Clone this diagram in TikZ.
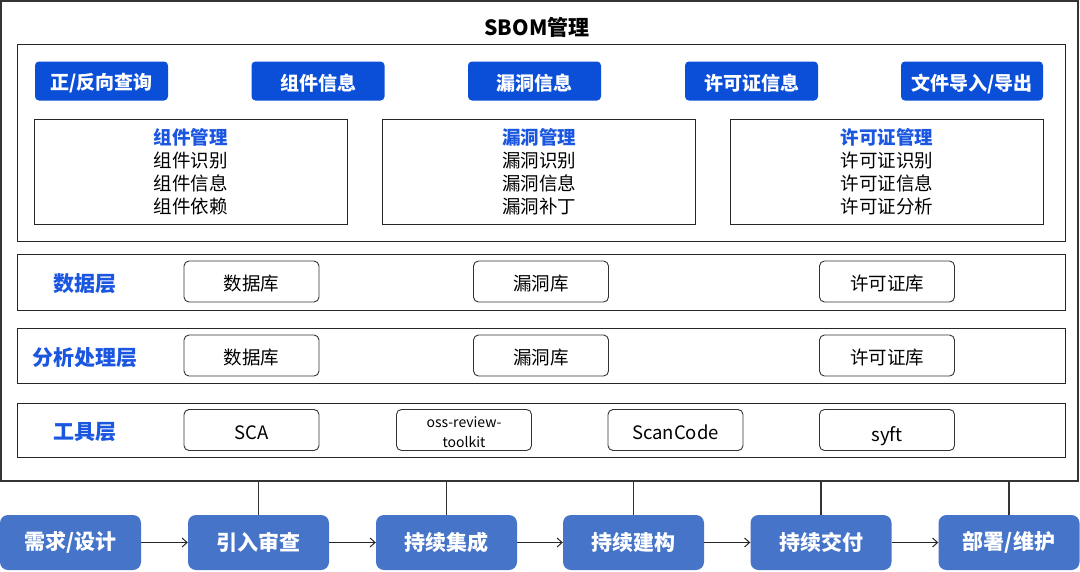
\documentclass[tikz,border=0pt]{standalone}
\usepackage{fontspec}
\setmainfont{Noto Sans CJK SC}
\usetikzlibrary{arrows.meta}
\definecolor{btnblue}{HTML}{0B4FD9}
\definecolor{ttlblue}{HTML}{1A56E0}
\definecolor{procblue}{HTML}{4674C9}
\definecolor{framegray}{HTML}{333333}
% lower the text of a node without changing its size
\newcommand\sinkbegin{\setbox0=\hbox\bgroup}
\newcommand\sinkend[1]{\egroup\dimen0=\ht0 \dimen2=\dp0
	\setbox2=\hbox{\lower#1\box0}\ht2=\dimen0 \dp2=\dimen2 \box2}
\tikzset{
	sink/.style={execute at begin node={\sinkbegin},execute at end node={\sinkend{#1}}},
	frame/.style={draw=framegray,line width=1.4pt,inner sep=0pt},
	panel/.style={draw=black!85,line width=1pt,inner sep=0pt,minimum width=1048},
	btn/.style={fill=btnblue,rounded corners=4pt,text=white,minimum width=133,minimum height=39,
		inner sep=0pt,font=\fontsize{19}{23}\selectfont\bfseries,sink=2.5pt},
	mgmt/.style={draw=black!85,line width=1pt,minimum width=313,minimum height=105,inner sep=0pt,
		align=center,font=\fontsize{18.5}{23}\selectfont},
	layer/.style={text=ttlblue,font=\fontsize{21}{24}\selectfont\bfseries},
	item/.style={draw=black!80,line width=0.9pt,rounded corners=5pt,minimum width=135,minimum height=41,
		inner sep=0pt,font=\fontsize{18.5}{22}\selectfont,sink=2.3pt},
	proc/.style={fill=procblue,rounded corners=8pt,text=white,minimum width=141,minimum height=55,
		inner sep=0pt,font=\fontsize{21}{24}\selectfont\bfseries},
	arr/.style={draw=black!85,line width=1pt,-{Straight Barb[length=5pt,width=9pt]}},
	link/.style={draw=framegray,line width=1.3pt}
}
\begin{document}
\begin{tikzpicture}[x=1pt,y=-1pt]
	\useasboundingbox (0,0) rectangle (1080,571);
	% outer frame and title
	\node[frame,minimum width=1077,minimum height=480] (sbom) at (539.5,241) {};
	\node[font=\fontsize{21}{24}\selectfont\bfseries] (title) at (537,27) {SBOM管理};
	
	% top panel
	\node[panel,minimum height=197] (top) at (541,142.5) {};
	\node[btn] (query) at (101.5,81) {正/反向查询};
	\node[btn] (compinfo) at (318,81) {组件信息};
	\node[btn] (vulninfo) at (534.5,81) {漏洞信息};
	\node[btn] (licinfo) at (751.5,81) {许可证信息};
	\node[btn,minimum width=142] (io) at (972,81) {文件导入/导出};
	
	\node[mgmt] (compmgmt) at (190.5,172) {\textcolor{ttlblue}{\bfseries 组件管理}\\组件识别\\组件信息\\组件依赖};
	\node[mgmt] (vulnmgmt) at (539,172) {\textcolor{ttlblue}{\bfseries 漏洞管理}\\漏洞识别\\漏洞信息\\漏洞补丁};
	\node[mgmt] (licmgmt) at (887,172) {\textcolor{ttlblue}{\bfseries 许可证管理}\\许可证识别\\许可证信息\\许可证分析};
	
	% data layer
	\node[panel,minimum height=56] (data) at (541,282) {};
	\node[layer] (datalbl) at (85,284) {数据层};
	\node[item] (db1) at (251.5,281.5) {数据库};
	\node[item] (vdb1) at (541,281.5) {漏洞库};
	\node[item] (ldb1) at (887,281.5) {许可证库};
	
	% analysis layer
	\node[panel,minimum height=55] (ana) at (541,355.5) {};
	\node[layer] (analbl) at (85,358) {分析处理层};
	\node[item] (db2) at (251.5,355.5) {数据库};
	\node[item] (vdb2) at (541,355.5) {漏洞库};
	\node[item] (ldb2) at (887,355.5) {许可证库};
	
	% tool layer
	\node[panel,minimum height=54] (tool) at (541,430) {};
	\node[layer] (toollbl) at (85,432) {工具层};
	\node[item] (sca) at (251.5,430) {SCA};
	\node[item,execute at begin node={},execute at end node={},align=center,
		font=\fontsize{14}{20}\selectfont] (ort) at (464,430) {oss-review-\\toolkit};
	\node[item] (scancode) at (675.5,430) {ScanCode};
	\node[item,sink=4pt] (syft) at (887,430) {syft};
	
	% pipeline
	\node[proc] (p1) at (70.5,542.5) {需求/设计};
	\node[proc] (p2) at (258.5,542.5) {引入审查};
	\node[proc] (p3) at (446.5,542.5) {持续集成};
	\node[proc] (p4) at (633.5,542.5) {持续建构};
	\node[proc] (p5) at (821,542.5) {持续交付};
	\node[proc] (p6) at (1009,542.5) {部署/维护};
	
	\draw[arr] (p1) -- (p2);
	\draw[arr] (p2) -- (p3);
	\draw[arr] (p3) -- (p4);
	\draw[arr] (p4) -- (p5);
	\draw[arr] (p5) -- (p6);
	
	\foreach \p in {p2,p3,p4,p5,p6}
		\draw[link] (\p.north |- sbom.south) -- (\p.north);
\end{tikzpicture}
\end{document}
